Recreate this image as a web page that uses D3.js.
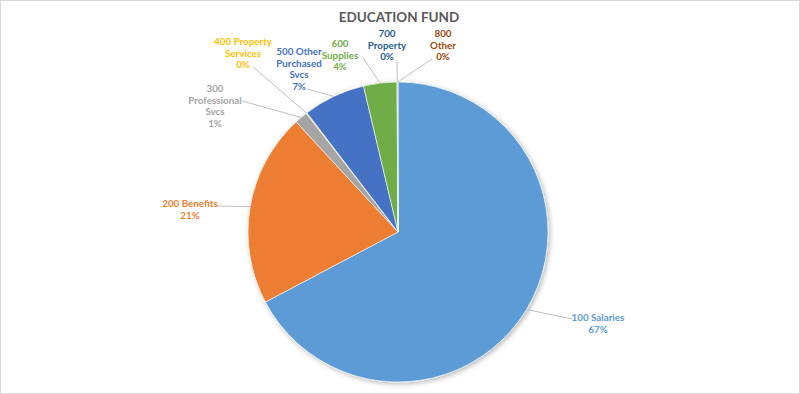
<!DOCTYPE html>
<html>
<head>
<meta charset="utf-8">
<script src="https://cdn.jsdelivr.net/npm/d3@7"></script>
<style>
  body { margin: 0; background: #fff; }
  svg { display: block; font-family: Lato, "Open Sans", sans-serif; }
</style>
</head>
<body>
<svg id="chart" width="800" height="394"></svg>
<script>
// category names (lines of each label) and share of the fund in percent
var categories = [
    ["100 Salaries"],
    ["200 Benefits"],
    ["300", "Professional", "Svcs"],
    ["400 Property", "Services"],
    ["500 Other", "Purchased", "Svcs"],
    ["600", "Supplies"],
    ["700", "Property"],
    ["800", "Other"]
];
var values = [67.4, 20.9, 1.4, 0.1, 6.7, 3.6, 0.05, 0.05];
var percentLabels = ["67%", "21%", "1%", "0%", "7%", "4%", "0%", "0%"];
var colors = ["#5B9BD5", "#ED7D31", "#A5A5A5", "#FFC000", "#4472C4", "#70AD47", "#255E91", "#9E480E"];

// label placement relative to pie centre (layout only)
var labelPos = [[200, 89], [-208, -25], [-183, -140], [-155, -187], [-99, -177], [-58, -185], [-11, -195], [45, -195]];
var leaderStart = [[174, 87], [-181, -26], [-156, -131], [-145, -165], [-91, -143], [-35, -174], [-1, -170], [34, -173]];

var svg = d3.select("#chart");
var W = 800, H = 394;
var cx = 398, cy = 232, radius = 150;
var LINE_H = 11.5;

svg.append("rect")
   .attr("x", 0.5).attr("y", 0.5)
   .attr("width", W - 1).attr("height", H - 1)
   .attr("fill", "#fff")
   .attr("stroke", "#d9d9d9");

var defs = svg.append("defs");
var filt = defs.append("filter").attr("id", "shadow")
               .attr("x", "-10%").attr("y", "-10%")
               .attr("width", "120%").attr("height", "120%");
filt.append("feDropShadow")
    .attr("dx", 1.5).attr("dy", 1.5)
    .attr("stdDeviation", 2.5)
    .attr("flood-color", "#000")
    .attr("flood-opacity", 0.3);

svg.append("text")
   .attr("x", 399).attr("y", 22)
   .attr("text-anchor", "middle")
   .attr("font-size", 13.5)
   .attr("font-weight", "bold")
   .attr("fill", "#595959")
   .text("EDUCATION FUND");

var pie = d3.pie().sort(null).value(function (d) { return d; });
var arcs = pie(values);
var arc = d3.arc().innerRadius(0).outerRadius(radius);

var g = svg.append("g").attr("transform", "translate(" + cx + "," + cy + ")");

g.append("g")
 .attr("filter", "url(#shadow)")
 .selectAll("path")
 .data(arcs)
 .enter()
 .append("path")
 .attr("d", arc)
 .attr("fill", function (d, i) { return colors[i]; })
 .attr("stroke", "#fff")
 .attr("stroke-width", 0.6);

// leader lines from label to the middle of each slice's outer edge
g.selectAll(".leader")
 .data(arcs)
 .enter()
 .append("line")
 .attr("class", "leader")
 .attr("x1", function (d, i) { return leaderStart[i][0]; })
 .attr("y1", function (d, i) { return leaderStart[i][1]; })
 .attr("x2", function (d) { return radius * Math.sin((d.startAngle + d.endAngle) / 2); })
 .attr("y2", function (d) { return -radius * Math.cos((d.startAngle + d.endAngle) / 2); })
 .attr("stroke", "#bfbfbf")
 .attr("stroke-width", 1);

var labels = g.selectAll(".label")
              .data(arcs)
              .enter()
              .append("text")
              .attr("class", "label")
              .attr("text-anchor", "middle")
              .attr("font-size", 9.8)
              .attr("font-weight", "bold")
              .attr("fill", function (d, i) { return colors[i]; });

labels.each(function (d, i) {
    var t = d3.select(this);
    var lines = categories[i].concat([percentLabels[i]]);
    lines.forEach(function (s, k) {
        t.append("tspan")
         .attr("x", labelPos[i][0])
         .attr("y", labelPos[i][1] + k * LINE_H)
         .text(s);
    });
});
</script>
</body>
</html>
